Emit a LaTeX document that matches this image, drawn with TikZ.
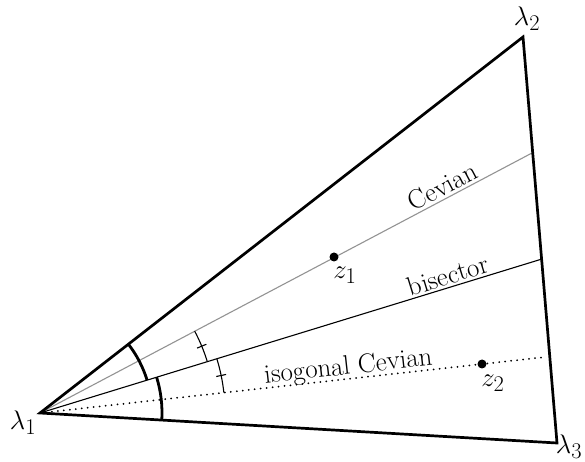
\documentclass[tikz,border=0pt]{standalone}
\begin{document}
\begin{tikzpicture}[x=1pt,y=1pt,
  edge/.style={line width=2.7pt, line join=miter},
  thin/.style={line width=1.1pt},
  thickarc/.style={line width=2.8pt},
  lbl/.style={font=\Huge, inner sep=2pt, scale=1.08, transform shape},
  dot/.style={circle, fill=black, inner sep=0pt, minimum size=9pt}]
\useasboundingbox (0,0) rectangle (585,462);
\coordinate (L1) at (40,49);
\coordinate (L2) at (523,425);
\coordinate (L3) at (557,19);
\coordinate (C) at (532,309);
\coordinate (B) at (542,203);
\coordinate (I) at (546,105);
% inner lines
\draw[thin, gray!85] (L1) -- node[pos=0.83, sloped, above, lbl, black] {Cevian} (C);
\draw[thin] (L1) -- node[pos=0.82, sloped, above, lbl] {bisector} (B);
\draw[line width=2pt, dash pattern=on 0pt off 6pt, line cap=round] (L1) -- (I);
\path (L1) -- node[pos=0.612, sloped, above, lbl, yshift=-3pt] {isogonal Cevian} (I);
% triangle
\draw[edge] (L1) -- (L2) -- (L3) -- cycle;
% points
\node[dot] (z1) at (334,205) {};
\node[dot] (z2) at (482,98) {};
\node[lbl] at (345,187) {$z_1$};
\node[lbl] at (493,79) {$z_2$};
% vertex labels
\node[lbl] (l1) at (23,39) {$\lambda_1$};
\node[lbl] (l2) at (527,443) {$\lambda_2$};
\node[lbl] (l3) at (569,15) {$\lambda_3$};
% angle arcs
\draw[thickarc] (L1) ++(37.9:112) arc[start angle=37.9, end angle=17.05, radius=112];
\draw[thickarc] (L1) ++(17.05:122) arc[start angle=17.05, end angle=-3.32, radius=122];
\draw[thin] (L1) ++(27.85:175) arc[start angle=27.85, end angle=17.05, radius=175];
\draw[thin] (L1) ++(6.32:185) arc[start angle=6.32, end angle=17.05, radius=185];
\draw[thin] (L1) ++(22.45:170) -- ++(22.45:10);
\draw[thin] (L1) ++(11.7:180) -- ++(11.7:10);
\end{tikzpicture}
\end{document}
